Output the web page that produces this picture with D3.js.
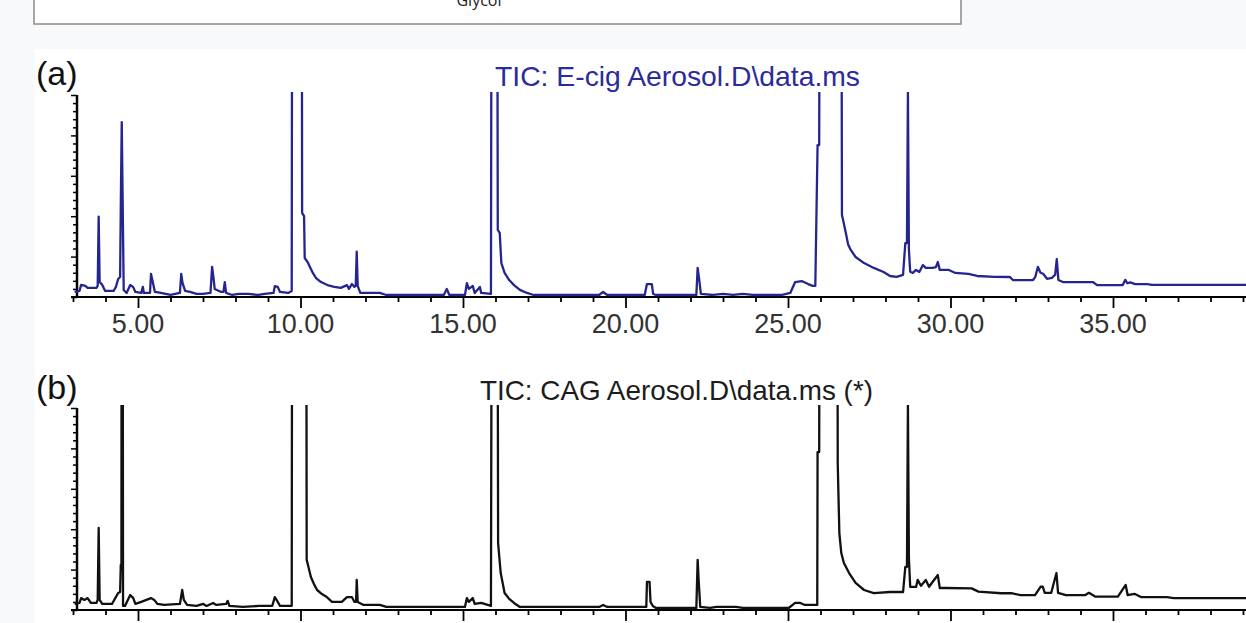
<!DOCTYPE html>
<html lang="en">
<head>
<meta charset="UTF-8">
<title>TIC chromatograms</title>
<script src="https://d3js.org/d3.v7.min.js"></script>
<style>
  body { margin: 0; background: #f8f9fb; }
  svg { display: block; }
  .tick-label { font-family: "Liberation Sans", Arial, sans-serif; font-size: 27px; fill: #333; }
  .panel-tag { font-family: "Liberation Sans", Arial, sans-serif; font-size: 34px; fill: #111; }
  .title { font-family: "Liberation Sans", Arial, sans-serif; font-size: 28px; }
  .caption { font-family: "Open Sans", sans-serif; font-size: 16px; fill: #222; }
</style>
</head>
<body>
<svg width="1246" height="623"></svg>
<script>
// retention time (min) / abundance (% of full scale)
const timesA = [3.05,3.20,3.25,3.38,3.45,3.72,3.76,3.79,3.82,3.90,3.99,4.25,4.32,4.39,4.45,4.47,4.50,4.53,4.56,4.65,
  4.76,4.85,4.92,5.10,5.15,5.18,5.37,5.40,5.46,5.52,5.70,6.00,6.29,6.33,6.37,6.45,6.60,6.80,7.00,7.23,
  7.28,7.32,7.36,7.56,7.63,7.67,7.71,7.90,8.10,8.40,8.70,8.90,9.17,9.21,9.30,9.37,9.62,9.73,9.75,10.03,
  10.05,10.11,10.13,10.23,10.29,10.38,10.48,10.63,10.83,11.04,11.24,11.43,11.49,11.58,11.66,11.70,11.73,11.76,11.84,12.44,
  12.64,14.41,14.50,14.58,15.06,15.12,15.18,15.30,15.36,15.52,15.56,15.86,15.89,16.04,16.07,16.13,16.18,16.28,16.42,16.57,
  16.75,16.97,17.17,19.19,19.31,19.44,20.59,20.66,20.81,20.85,20.94,22.18,22.22,22.27,22.32,22.70,23.00,23.31,23.61,23.91,
  24.82,25.07,25.22,25.42,25.62,25.76,25.84,25.91,25.96,25.99,26.63,26.66,26.71,26.78,26.85,26.93,27.08,27.34,27.64,27.94,
  28.14,28.34,28.54,28.61,28.66,28.69,28.72,28.76,28.84,28.94,29.04,29.15,29.24,29.45,29.55,29.61,29.67,29.95,30.15,30.55,
  30.82,31.36,31.83,31.92,32.54,32.61,32.69,32.77,32.85,32.97,33.12,33.22,33.27,33.32,33.46,34.38,34.51,35.30,35.38,35.44,
  35.53,35.68,36.05,36.20,36.90,39.20];
const abundA = [2.5,3.0,6.0,5.5,4.5,4.5,5.5,39.8,7.4,6.0,3.0,3.0,5.0,8.9,9.9,44.6,86.6,44.6,3.5,2.0,
  5.9,5.0,2.5,2.0,5.0,2.0,2.0,11.4,7.0,2.5,2.0,1.0,2.0,11.4,7.0,3.0,2.5,1.5,1.5,2.0,
  14.9,9.9,4.0,2.5,2.5,7.4,2.0,1.0,1.5,1.5,1.0,1.5,2.0,5.4,5.0,2.5,2.0,3.0,300,300,
  41.6,40.0,19.3,17.0,14.9,11.9,9.4,7.4,5.9,5.0,4.5,5.9,4.0,6.4,5.0,5.5,22.4,5.5,2.0,2.0,
  1.0,1.0,4.0,1.0,1.0,6.9,4.0,5.5,2.0,5.0,2.0,1.5,300,300,33.2,31.7,16.8,11.9,8.4,5.9,
  3.5,2.0,1.0,1.0,2.5,1.0,1.0,6.4,6.4,1.5,1.0,1.0,14.4,8.4,1.5,1.0,1.5,1.0,1.5,1.0,
  1.0,2.0,7.4,7.9,6.4,5.5,5.5,75.2,75.2,300,300,40.6,37.0,31.7,26.0,23.3,19.8,16.8,14.4,12.4,
  10.4,10.0,11.0,26.7,26.7,101.5,23.3,12.5,11.9,13.4,12.4,15.8,14.4,14.4,14.8,17.3,13.4,13.4,11.9,11.4,
  10.4,10.0,9.9,8.4,8.4,10.0,14.9,12.0,11.5,9.0,9.5,11.0,18.8,8.4,7.4,7.4,5.9,5.9,8.5,6.8,
  7.2,6.4,6.4,6.0,6.0,6.0];

const timesB = [3.05,3.20,3.25,3.35,3.45,3.55,3.72,3.76,3.79,3.82,3.90,4.20,4.30,4.39,4.45,4.47,4.49,4.50,4.52,4.54,
  4.60,4.76,4.85,4.92,5.10,5.40,5.50,5.60,5.80,6.29,6.36,6.41,6.51,6.80,7.01,7.11,7.31,7.41,7.71,7.76,
  7.81,8.22,8.72,9.13,9.21,9.30,9.37,9.73,9.75,10.17,10.19,10.23,10.32,10.41,10.51,10.66,10.81,10.97,11.27,11.43,
  11.58,11.66,11.71,11.73,11.76,11.94,12.44,12.64,15.06,15.12,15.18,15.30,15.36,15.56,15.86,15.90,16.05,16.08,16.16,16.28,
  16.42,16.57,16.75,19.19,19.31,19.44,20.64,20.66,20.74,20.77,20.84,20.94,22.18,22.22,22.25,22.30,22.60,22.80,23.10,23.40,
  23.61,25.02,25.22,25.38,25.52,25.83,25.90,25.91,25.96,25.98,26.51,26.53,26.58,26.64,26.72,26.88,27.08,27.34,27.64,28.14,
  28.54,28.61,28.66,28.69,28.72,28.76,28.84,28.94,28.99,29.09,29.24,29.34,29.61,29.67,29.85,30.65,30.86,31.56,31.87,32.15,
  32.60,32.77,32.84,32.90,33.10,33.26,33.31,33.55,34.15,34.26,34.46,35.15,35.39,35.45,35.66,35.86,36.66,36.87,39.20];
const abundB = [3.0,3.5,5.9,5.0,5.9,3.5,3.5,5.0,40.6,5.0,3.0,3.0,5.9,8.4,8.9,22.3,22.3,300,300,2.0,
  2.0,7.4,6.0,3.0,4.0,5.9,5.0,3.0,2.5,3.0,9.9,5.0,2.5,2.0,3.0,2.0,3.5,2.5,3.0,4.5,
  2.0,1.5,2.0,2.0,6.4,4.0,2.0,2.0,300,300,24.8,22.3,16.3,13.0,9.9,7.9,6.4,4.0,4.0,6.4,
  6.4,4.0,4.0,14.9,4.0,2.5,2.5,1.5,1.5,5.9,4.0,5.9,3.0,3.5,2.0,300,300,33.2,18.3,8.4,
  5.5,3.5,1.5,1.5,2.5,1.5,1.5,13.9,13.9,4.0,2.0,1.0,1.0,24.8,14.9,1.5,1.0,1.5,1.5,1.5,
  1.0,1.0,3.5,3.5,2.5,2.5,2.5,78.2,78.2,300,300,72.8,38.1,28.2,23.3,18.3,13.4,9.9,8.4,8.9,
  8.9,21.3,21.3,102,25.7,11.4,11.4,11.4,14.9,12.0,14.9,11.5,17.3,10.9,10.9,10.7,9.1,8.3,8.3,7.4,
  7.4,11.5,11.5,8.5,8.5,18.3,8.5,7.4,7.4,8.5,6.6,6.6,12.4,7.4,8.0,6.4,6.4,5.9,5.9];

const xTicks = [5, 10, 15, 20, 25, 30, 35];
const panelTags = ["(a)", "(b)"];
const panelTitles = ["TIC: E-cig Aerosol.D\\data.ms", "TIC: CAG Aerosol.D\\data.ms (*)"];

const svg = d3.select("svg");

// cropped caption box from the page above
svg.append("rect").attr("x", 34).attr("y", -5).attr("width", 927).attr("height", 29)
  .attr("fill", "#fff").attr("stroke", "#8a8a8a").attr("stroke-width", 1.5);
svg.append("text").attr("class", "caption").attr("x", 479).attr("y", 6)
  .attr("text-anchor", "middle").text("Glycol");

// white figure area
svg.append("rect").attr("x", 35).attr("y", 49).attr("width", 1211).attr("height", 574).attr("fill", "#fff");

const x = d3.scaleLinear().domain([5, 35]).range([138, 1113]);

const panels = [
  { times: timesA, abund: abundA, top: 95, bottom: 297, color: "#25258f", titleColor: "#2b2b9c",
    titleX: 495, titleY: 86, titleLen: 365, tagY: 85, labels: true },
  { times: timesB, abund: abundB, top: 408, bottom: 610, color: "#111", titleColor: "#1c1c1c",
    titleX: 480, titleY: 400, titleLen: 393, tagY: 399, labels: false }
];

panels.forEach((p, i) => {
  const y = d3.scaleLinear().domain([0, 100]).range([p.bottom, p.top]);
  const g = svg.append("g");

  svg.append("clipPath").attr("id", "clip" + i)
    .append("rect").attr("x", 72).attr("y", p.top - 3).attr("width", 1180).attr("height", p.bottom - p.top + 3);

  // x axis with minute ticks, longer every 5 min
  const xAxis = d3.axisBottom(x)
    .tickValues(d3.range(3, 40, 1))
    .tickSize(5)
    .tickFormat("");
  g.append("g").attr("transform", `translate(0,${p.bottom})`).call(xAxis)
    .call(a => a.select(".domain").remove())
    .call(a => a.selectAll("line").attr("stroke", "#000").attr("stroke-width", 1.8)
      .attr("y2", d => d % 5 === 0 ? 11 : 5));
  g.append("line").attr("x1", 71).attr("x2", 1246).attr("y1", p.bottom).attr("y2", p.bottom)
    .attr("stroke", "#000").attr("stroke-width", 2);

  // the lower panel's labels fall below the cropped edge of the figure
  if (p.labels) {
    g.selectAll(".tick-label").data(xTicks).join("text")
      .attr("class", "tick-label")
      .attr("x", d => x(d)).attr("y", p.bottom + 36)
      .attr("text-anchor", "middle")
      .text(d => d3.format(".2f")(d));
  }

  // y axis, unlabeled minor ticks
  const yAxis = d3.axisLeft(y).tickValues(d3.range(0, 101, 4)).tickSize(4).tickFormat("");
  g.append("g").attr("transform", "translate(77,0)").call(yAxis)
    .call(a => a.select(".domain").remove())
    .call(a => a.selectAll("line").attr("stroke", "#000").attr("stroke-width", 1.5)
      .attr("x2", d => d % 20 === 0 ? -6 : -4));
  g.append("line").attr("x1", 77).attr("x2", 77).attr("y1", p.top).attr("y2", p.bottom)
    .attr("stroke", "#000").attr("stroke-width", 2.5);

  const pts = p.times.map((t, k) => [t, p.abund[k]]);
  const line = d3.line().x(d => x(d[0])).y(d => y(d[1]));
  g.append("path").datum(pts)
    .attr("clip-path", `url(#clip${i})`)
    .attr("d", line)
    .attr("fill", "none")
    .attr("stroke", p.color)
    .attr("stroke-width", 2.3)
    .attr("stroke-linejoin", "round");

  g.append("text").attr("class", "panel-tag").attr("x", 36).attr("y", p.tagY).text(panelTags[i]);
  g.append("text").attr("class", "title").attr("x", p.titleX).attr("y", p.titleY)
    .attr("fill", p.titleColor)
    .attr("textLength", p.titleLen).attr("lengthAdjust", "spacingAndGlyphs")
    .text(panelTitles[i]);
});
</script>
</body>
</html>
